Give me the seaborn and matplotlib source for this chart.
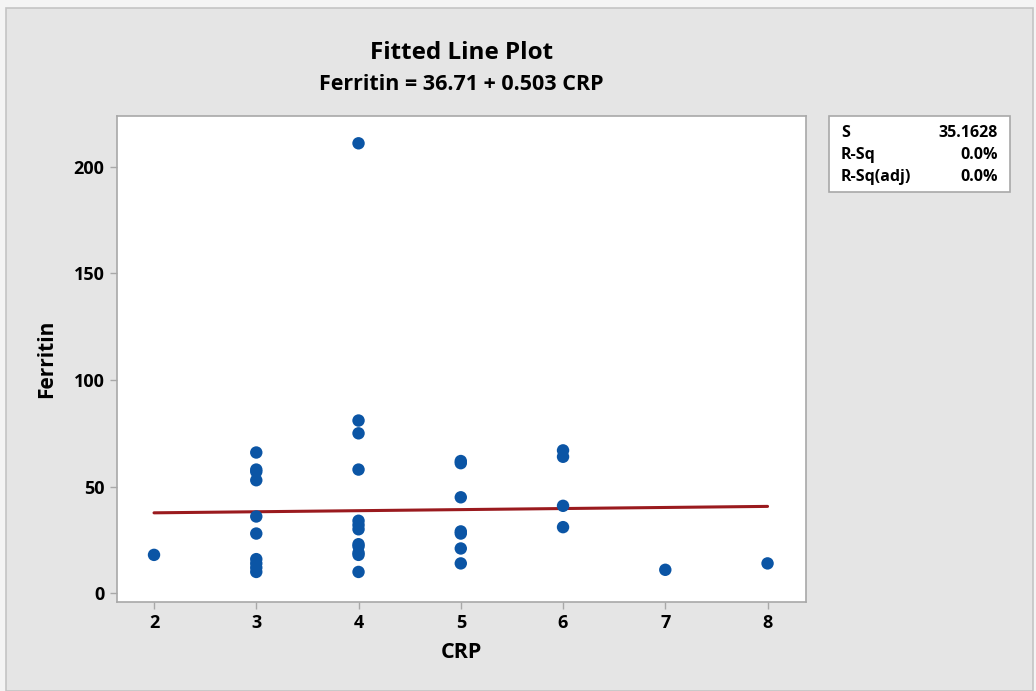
"""
Fitted line plot: Ferritin vs CRP
"""

import numpy as np
import pandas as pd
import matplotlib
matplotlib.use('Agg')
import matplotlib.pyplot as plt
from matplotlib.patches import Rectangle
import seaborn as sns

# data
crp = [2,
       3, 3, 3, 3, 3, 3, 3, 3, 3, 3,
       4, 4, 4, 4, 4, 4, 4, 4, 4, 4, 4, 4,
       5, 5, 5, 5, 5, 5, 5,
       6, 6, 6, 6,
       7,
       8]
ferritin = [18,
            66, 58, 57, 53, 36, 28, 16, 14, 12, 10,
            211, 81, 75, 58, 34, 32, 30, 23, 22, 19, 18, 10,
            62, 61, 45, 29, 28, 21, 14,
            67, 64, 41, 31,
            11,
            14]

intercept = 36.71
slope = 0.503
stats_names = ['S', 'R-Sq', 'R-Sq(adj)']
stats_values = ['35.1628', '0.0%', '0.0%']

x_ticks = [2, 3, 4, 5, 6, 7, 8]
y_ticks = [0, 50, 100, 150, 200]

df = pd.DataFrame({'CRP': crp, 'Ferritin': ferritin})
fit_x = np.array([min(crp), max(crp)])
fit_df = pd.DataFrame({'CRP': fit_x, 'Ferritin': intercept + slope * fit_x})

sns.set_style('white')
plt.rcParams['font.family'] = ['Open Sans', 'DejaVu Sans']
plt.rcParams['text.color'] = 'black'
plt.rcParams['axes.labelcolor'] = 'black'
plt.rcParams['xtick.color'] = 'black'
plt.rcParams['ytick.color'] = 'black'

fig = plt.figure(figsize=(10.36, 6.91), dpi=100, facecolor='#f4f4f4')
fig.patches.append(Rectangle((6 / 1036, 0), 1027 / 1036, 683 / 691,
                             transform=fig.transFigure, facecolor='#e5e5e5',
                             edgecolor='#c4c4c4', linewidth=1.2, zorder=-5))

ax = fig.add_axes([117 / 1036, 1 - 602 / 691, 689 / 1036, 486 / 691])
ax.set_zorder(2)
ax.set_facecolor('white')

sns.scatterplot(data=df, x='CRP', y='Ferritin', ax=ax, color='#0b55a5',
                s=80, edgecolor='none', zorder=3)
sns.lineplot(data=fit_df, x='CRP', y='Ferritin', ax=ax, color='#9a1a1e',
             linewidth=2.2, zorder=2)

ax.set_xlim(1.638, 8.376)
ax.set_ylim(-4.1, 223.8)
ax.set_xticks(x_ticks)
ax.set_yticks(y_ticks)

for sp in ax.spines.values():
    sp.set_color('#a8a8a8')
    sp.set_linewidth(1.2)

ax.tick_params(axis='both', which='major', length=5, width=1, color='#a8a8a8',
               labelcolor='black', labelsize=13, pad=4, left=True, bottom=True)
for lbl in ax.get_xticklabels() + ax.get_yticklabels():
    lbl.set_fontweight('bold')

ax.set_xlabel('CRP', fontsize=15.5, fontweight='bold', labelpad=7)
ax.set_ylabel('Ferritin', fontsize=15, fontweight='bold', labelpad=12)

fig.text(0.5 * (117 + 806) / 1036, 1 - 53 / 691, 'Fitted Line Plot',
         ha='center', va='center', fontsize=17.5, fontweight='bold')
fig.text(0.5 * (117 + 806) / 1036, 1 - 85 / 691,
         f'Ferritin = {intercept:.2f} + {slope:.3f} CRP',
         ha='center', va='center', fontsize=15.5, fontweight='bold')

# stats box
fig.patches.append(Rectangle((829 / 1036, 1 - 192 / 691), 181 / 1036, 76 / 691,
                             transform=fig.transFigure, facecolor='white',
                             edgecolor='#a8a8a8', linewidth=1.2, zorder=1))
for i, (name, val) in enumerate(zip(stats_names, stats_values)):
    yy = 1 - (133 + i * 22) / 691
    fig.text(841 / 1036, yy, name, ha='left', va='center',
             fontsize=11.5, fontweight='bold')
    fig.text(998 / 1036, yy, val, ha='right', va='center',
             fontsize=11.5, fontweight='bold')

fig.savefig('out.png', dpi=100, facecolor=fig.get_facecolor())
